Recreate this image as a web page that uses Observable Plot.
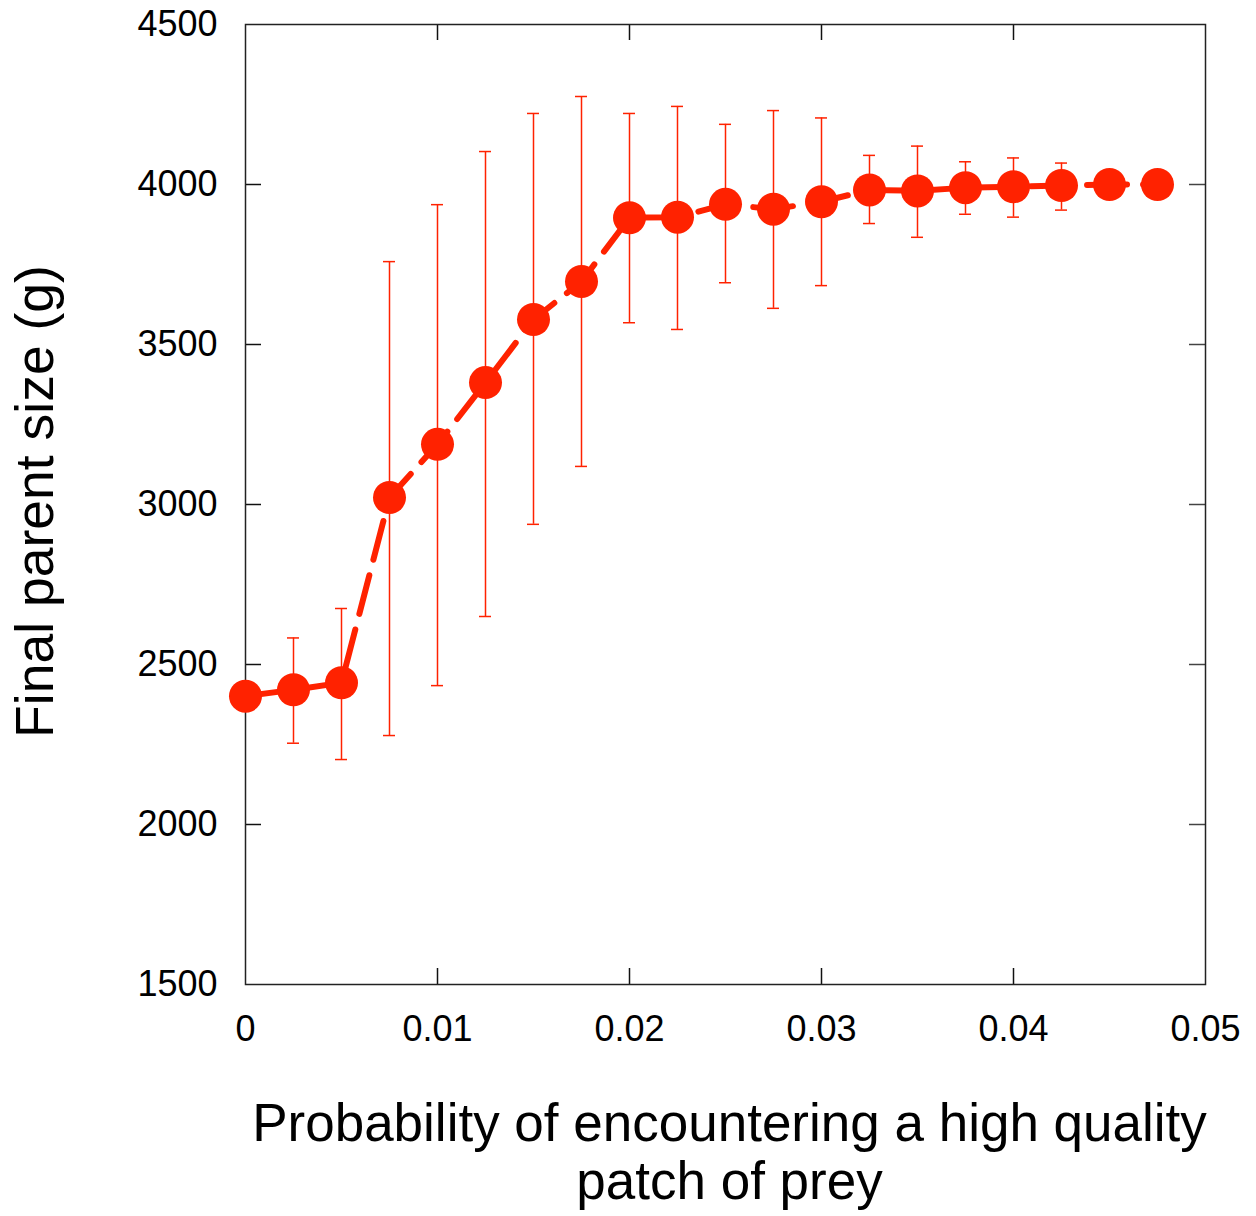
<!DOCTYPE html>
<html>
<head>
<meta charset="utf-8">
<script src="https://cdn.jsdelivr.net/npm/d3@7"></script>
<script src="https://cdn.jsdelivr.net/npm/@observablehq/plot@0.6"></script>
<style>
  html, body { margin: 0; padding: 0; background: #fff; }
  #chart svg { display: block; }
</style>
</head>
<body>
<div id="chart"></div>
<script>
const probability = [0, 0.0025, 0.005, 0.0075, 0.01, 0.0125, 0.015, 0.0175, 0.02, 0.0225,
                     0.025, 0.0275, 0.03, 0.0325, 0.035, 0.0375, 0.04, 0.0425, 0.045, 0.0475];
const parentSize = [2401, 2421, 2443, 3022, 3188, 3381, 3578, 3697, 3896, 3898,
                    3938, 3923, 3946, 3983, 3980, 3990, 3993, 3997, 4000, 4000];
const errUpper = [null, 2583, 2675, 3759, 3937, 4103, 4222, 4275, 4222, 4244,
                  4188, 4231, 4208, 4091, 4120, 4071, 4083, 4067, null, null];
const errLower = [null, 2254, 2203, 2278, 2434, 2650, 2938, 3119, 3568, 3547,
                  3693, 3613, 3684, 3878, 3835, 3907, 3898, 3920, null, null];
const xTicks = [0, 0.01, 0.02, 0.03, 0.04, 0.05];
const yTicks = [1500, 2000, 2500, 3000, 3500, 4000, 4500];

const data = probability.map((p, i) => ({x: p, y: parentSize[i], hi: errUpper[i], lo: errLower[i]}));
const errData = data.filter(d => d.hi != null);

const W = 1256, H = 1216;
const mL = 245, mR = 51, mT = 24, mB = 232;
const innerW = W - mL - mR, innerH = H - mT - mB;
const capHalf = 6 * (0.05 / innerW);
const tickLen = 16;
const red = "#ff2200";
const font = "'Liberation Sans', Arial, Helvetica, sans-serif";

const chart = Plot.plot({
  width: W, height: H,
  marginLeft: mL, marginRight: mR, marginTop: mT, marginBottom: mB,
  style: {fontFamily: font, background: "#fff", color: "#000"},
  x: {domain: [0, 0.05], ticks: xTicks},
  y: {domain: [1500, 4500], ticks: yTicks},
  marks: [
    // inward ticks on all four sides
    Plot.tickX(xTicks.slice(1, -1), {x: d => d, insetTop: innerH - tickLen, stroke: "#111", strokeWidth: 1.5}),
    Plot.tickX(xTicks.slice(1, -1), {x: d => d, insetBottom: innerH - tickLen, stroke: "#111", strokeWidth: 1.5}),
    Plot.tickY(yTicks.slice(1, -1), {y: d => d, insetRight: innerW - tickLen, stroke: "#111", strokeWidth: 1.5}),
    Plot.tickY(yTicks.slice(1, -1), {y: d => d, insetLeft: innerW - tickLen, stroke: "#444", strokeWidth: 1.5}),
    Plot.frame({stroke: "#222", strokeWidth: 1.5}),
    Plot.axisX(xTicks, {anchor: "bottom", tickSize: 0, tickPadding: 31, fontSize: 36,
      tickFormat: d => d === 0 ? "0" : d.toFixed(2), label: null}),
    Plot.axisY(yTicks, {anchor: "left", tickSize: 0, tickPadding: 28, fontSize: 36,
      tickFormat: d => String(d), label: null}),
    // error bars
    Plot.ruleX(errData, {x: "x", y1: "lo", y2: "hi", stroke: red, strokeWidth: 1.5}),
    Plot.ruleY(errData, {y: "hi", x1: d => d.x - capHalf, x2: d => d.x + capHalf, stroke: red, strokeWidth: 1.5}),
    Plot.ruleY(errData, {y: "lo", x1: d => d.x - capHalf, x2: d => d.x + capHalf, stroke: red, strokeWidth: 1.5}),
    // dashed line
    Plot.line(data, {x: "x", y: "y", stroke: red, strokeWidth: 6, strokeDasharray: "40,16"}),
    // points
    Plot.dot(data, {x: "x", y: "y", r: 16.5, fill: red, stroke: "none"}),
    // axis titles
    Plot.text(["Probability of encountering a high quality\npatch of prey"], {
      frameAnchor: "bottom", textAnchor: "middle", lineAnchor: "top", dy: 115, dx: 4,
      fontSize: 53, lineHeight: 1.1, fill: "#000"}),
    Plot.text(["Final parent size (g)"], {
      frameAnchor: "left", textAnchor: "middle", rotate: -90, dx: -210, dy: -3,
      fontSize: 53.5, fill: "#000"})
  ]
});
document.getElementById("chart").appendChild(chart);
</script>
</body>
</html>
